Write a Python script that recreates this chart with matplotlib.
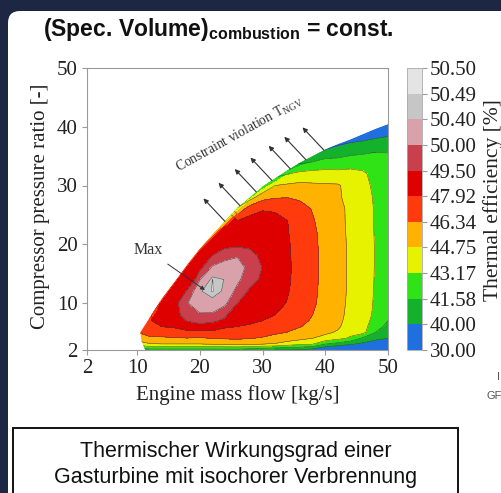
import numpy as np
import matplotlib
matplotlib.use("Agg")
import matplotlib.pyplot as plt
from matplotlib.patches import Polygon, Rectangle, FancyBboxPatch
from matplotlib.transforms import IdentityTransform

plt.rcParams['font.family'] = 'Liberation Serif'
plt.rcParams['mathtext.fontset'] = 'custom'
plt.rcParams['mathtext.rm'] = 'Liberation Serif'
plt.rcParams['mathtext.bf'] = 'Liberation Sans:bold'

nan = np.nan

# grid: engine mass flow [kg/s] x compressor pressure ratio [-]
mass_flow = [10, 12, 14, 16, 18, 20, 22, 24, 26, 28, 30, 32, 34, 36, 38, 40, 42, 44, 46, 48, 50]
pressure_ratio = [2, 3, 4, 5, 6, 7, 8, 10, 12, 14, 16, 18, 20, 22, 24, 26, 28, 30, 32, 34, 36, 38, 40, 42]

# thermal efficiency [%], one list per mass flow (bottom -> top), nan = far outside the map
efficiency = [
    [40.6, 43.8, 45.5, 46.3, 46.6, 46.5, 46.2] + [nan] * 17,
    [41.0, 44.6, 46.1, 46.9, 47.5, 47.8, 47.8, 47.5, 47.2] + [nan] * 15,
    [41.0, 44.7, 46.1, 47.1, 47.95, 48.5, 48.8, 48.05, 48.0, 47.9] + [nan] * 14,
    [41.0, 44.7, 46.2, 47.3, 48.1, 48.8, 49.3, 49.3, 48.6, 48.2, 48.0, 48.0] + [nan] * 12,
    [41.0, 44.7, 46.3, 47.4, 49.0, 49.55, 49.75, 49.98, 49.6, 48.7, 48.3, 48.2, 48.2] + [nan] * 11,
    [41.0, 44.7, 46.2, 47.3, 49.3, 49.7, 49.95, 50.27, 50.38, 49.98, 49.35, 48.3, 48.0, 48.0] + [nan] * 10,
    [41.0, 44.8, 46.4, 47.4, 49.1, 49.65, 49.93, 50.32, 50.5, 50.493, 50.08, 49.55, 48.3, 48.0, 48.0] + [nan] * 9,
    [41.0, 45.0, 46.5, 47.4, 48.1, 49.35, 49.65, 50.1, 50.36, 50.39, 50.22, 49.85, 49.3, 48.3, 48.0, 48.0, 48.0] + [nan] * 7,
    [41.0, 45.1, 46.6, 47.3, 47.92, 48.3, 48.7, 49.5, 49.85, 50.1, 50.2, 49.97, 49.35, 48.6, 47.95, 45.0, 43.0] + [nan] * 7,
    [40.7, 45.0, 46.4, 47.2, 47.8, 48.1, 48.4, 48.95, 49.4, 49.7, 49.85, 49.7, 49.35, 48.8, 48.4, 47.3, 44.0, 42.0] + [nan] * 6,
    [40.2, 44.75, 46.2, 46.9, 47.4, 47.92, 48.2, 48.7, 49.1, 49.4, 49.48, 49.35, 49.1, 48.7, 48.3, 47.85, 45.8, 43.0, 41.5] + [nan] * 5,
    [40.0, 44.6, 45.8, 46.6, 47.1, 47.5, 47.92, 48.35, 48.65, 48.85, 48.9, 48.85, 48.7, 48.45, 48.2, 47.8, 46.2, 44.75, 42.5, 41.0] + [nan] * 4,
    [39.95, 43.9, 45.7, 46.3, 46.8, 47.15, 47.45, 47.85, 48.0, 48.1, 48.12, 48.1, 48.05, 47.98, 47.92, 47.3, 46.3, 45.0, 43.1, 41.5] + [nan] * 4,
    [39.8, 43.5, 45.2, 45.9, 46.4, 46.75, 47.0, 47.25, 47.35, 47.4, 47.4, 47.4, 47.38, 47.3, 47.15, 46.85, 46.1, 45.15, 43.6, 41.2, 39.5] + [nan] * 3,
    [39.3, 43.2, 44.75, 45.4, 45.85, 46.15, 46.34, 46.55, 46.62, 46.65, 46.67, 46.67, 46.65, 46.6, 46.45, 46.25, 45.7, 45.0, 43.8, 41.6, 40.2, 39.0] + [nan] * 2,
    [38.0, 41.58, 44.3, 45.0, 45.35, 45.55, 45.7, 45.85, 45.9, 45.95, 45.95, 45.95, 45.9, 45.85, 45.75, 45.6, 45.3, 44.95, 43.7, 42.2, 40.1, 38.5] + [nan] * 2,
    [37.7, 40.9, 43.7, 44.6, 44.95, 45.05, 45.1, 45.18, 45.22, 45.25, 45.25, 45.25, 45.22, 45.18, 45.12, 45.1, 44.9, 44.9, 43.7, 42.1, 40.6, 39.2] + [nan] * 2,
    [37.2, 40.2, 42.9, 43.75, 44.1, 44.3, 44.4, 44.48, 44.52, 44.54, 44.54, 44.54, 44.52, 44.5, 44.48, 44.48, 44.4, 44.25, 43.7, 42.4, 40.9, 39.5, 38.5] + [nan],
    [36.8, 39.6, 41.3, 43.64, 43.7, 43.75, 43.78, 43.8, 43.82, 43.82, 43.82, 43.82, 43.82, 43.8, 43.8, 43.78, 43.7, 43.55, 43.4, 42.5, 41.1, 39.7, 38.6] + [nan],
    [36.3, 38.9, 40.5, 41.58, 42.3, 42.7, 42.9, 43.0, 43.05, 43.08, 43.1, 43.1, 43.1, 43.08, 43.05, 43.05, 43.0, 42.9, 42.7, 42.2, 41.45, 40.0, 38.8, 37.8],
    [35.8, 38.0, 40.0, 40.6, 41.1, 41.58, 41.85, 42.1, 42.25, 42.35, 42.4, 42.4, 42.4, 42.38, 42.36, 42.35, 42.3, 42.2, 42.05, 41.85, 41.5, 40.2, 39.0, 38.0],
]

# upper edge of the feasible map (T_NGV constraint) and its left foot
boundary_flow = [10.5, 12, 14, 16, 18, 20, 22, 24, 26, 28, 30, 32, 34, 36, 38, 40, 42, 44, 46, 48, 50]
boundary_ratio = [5.0, 7.5, 10.8, 13.6, 16.5, 19.2, 21.6, 23.9, 26.2, 28.0, 29.8, 31.2, 32.6, 33.9, 35.0, 36.1, 37.0, 37.8, 38.7, 39.6, 40.4]
foot_flow = [11.3, 10.7]
foot_ratio = [2.0, 3.5]

# thin band along the constraint edge (inner line -> edge)
strip_inner_ratio = [7.0, 10.3, 13.1, 16.0, 18.7, 20.9, 22.9, 25.2, 27.2, 28.8, 30.0, 31.9, 33.3, 34.0, 34.5, 34.9, 35.2, 35.5, 35.7, 35.8]
strip_inner_eff = [47.8, 48.0, 48.4, 48.3, 48.2, 48.2, 48.2, 46.2, 45.3, 44.7, 44.75, 43.2, 41.6, 41.6, 41.65, 41.45, 41.5, 41.45, 41.55, 41.55]
strip_edge_eff = [46.9, 46.8, 46.6, 46.4, 45.8, 44.5, 42.9, 42.6, 42.0, 41.8, 41.3, 40.9, 40.5, 40.1, 39.8, 39.6, 39.5, 39.2, 38.9, 38.7]

arrow_flow = [24.0, 26.4, 29.0, 31.5, 34.4, 36.9, 39.8]

levels = [30.0, 40.0, 41.58, 43.17, 44.75, 46.34, 47.92, 49.5, 50.0, 50.4, 50.49, 50.5]
band_colors = ['#1f6fe0', '#14b22c', '#30e316', '#e6f200', '#ffb300', '#ff3b0d',
               '#de0000', '#c9404c', '#d9a2aa', '#c6c6c6', '#e4e4e4']

fig = plt.figure(figsize=(5.02, 4.93), dpi=100)
fig.patch.set_facecolor('#1d2743')
panel = FancyBboxPatch((8, -40), 600, 493 - 11 + 40, boxstyle='round,pad=0,rounding_size=12',
                       transform=IdentityTransform(), fc='white', ec='none', zorder=-10)
fig.add_artist(panel)

ax = fig.add_axes([87 / 502, 143 / 493, 301 / 502, 282 / 493])
ax.set_facecolor('white')
X, Y = np.meshgrid(mass_flow, pressure_ratio)
Z = np.ma.masked_invalid(np.array(efficiency).T)

region = Polygon(np.column_stack([foot_flow + boundary_flow + [50],
                                  foot_ratio + boundary_ratio + [2.0]]),
                 closed=True, transform=ax.transData)

cs = ax.contourf(X, Y, Z, levels=levels, colors=band_colors)
cl = ax.contour(X, Y, Z, levels=levels[1:-1], colors='#3c3c3c', linewidths=0.35)
SX = np.array([boundary_flow[1:], boundary_flow[1:]])
SY = np.array([strip_inner_ratio, boundary_ratio[1:]])
SZ = np.array([strip_inner_eff, strip_edge_eff])
cs2 = ax.contourf(SX, SY, SZ, levels=levels, colors=band_colors)
for c in (cs, cl, cs2):
    c.set_clip_path(region)

ax.set_xlim(2, 50)
ax.set_ylim(2, 50)
ax.set_xticks([2, 10, 20, 30, 40, 50])
ax.set_yticks([2, 10, 20, 30, 40, 50])
for s in ax.spines.values():
    s.set_color('#9a9a9a')
    s.set_linewidth(0.8)
ax.tick_params(direction='out', length=3.5, width=0.8, color='#9a9a9a',
               labelsize=15, labelcolor='#222222', pad=3)

ax.set_xlabel('Engine mass flow [kg/s]', fontsize=15, color='#222222')
ax.xaxis.set_label_coords(0.5, -(395 - 350) / 282)
ax.xaxis.label.set_va('center')
ax.set_ylabel('Compressor pressure ratio [-]', fontsize=15, color='#222222')
ax.yaxis.set_label_coords((40 - 87) / 301, 0.51)
ax.yaxis.label.set_va('center')

ax.annotate('Max', xy=(20.8, 12.2), xytext=(11.7, 19.0), fontsize=11.5, color='#333333',
            ha='center', va='center',
            arrowprops=dict(arrowstyle='-|>', color='#333333', lw=0.7,
                            mutation_scale=6, shrinkA=4, shrinkB=0))
ax.text(26.3, 38.7, r'Constraint violation T$_{\mathrm{NGV}}$', rotation=29,
        rotation_mode='anchor', ha='center', va='center', fontsize=9.8, color='#333333')
for fx in arrow_flow:
    fy = np.interp(fx, boundary_flow, boundary_ratio)
    ax.annotate('', xy=(fx, fy), xytext=(-15.5, 16.5), textcoords='offset points',
                arrowprops=dict(arrowstyle='<|-', color='#333333', lw=0.8,
                                mutation_scale=7, shrinkA=0, shrinkB=0))

cax = fig.add_axes([407 / 502, 143 / 493, 15 / 502, 282 / 493])
cb = fig.colorbar(cs, cax=cax, ticks=levels)
cb.ax.set_yticklabels([f'{v:.2f}' for v in levels])
cb.outline.set_edgecolor('#aaaaaa')
cb.outline.set_linewidth(0.6)
cb.ax.tick_params(length=3.5, width=0.8, color='#9a9a9a', labelsize=15,
                  labelcolor='#222222', pad=2)
cb.set_label('Thermal efficiency [%]', fontsize=15.5, color='#222222')
cb.ax.yaxis.set_label_coords((493 - 407) / 15, 0.53)
cb.ax.yaxis.label.set_va('center')

fig.text(43 / 502, (493 - 36) / 493, r'(Spec. Volume)$_\mathbf{combustion}$ = const.',
         family='Liberation Sans', weight='bold', fontsize=16.5, va='baseline', color='#111111')

box = Rectangle((13, -10), 445, 493 - 428 + 10, transform=IdentityTransform(),
                fc='white', ec='#111111', lw=1.4, zorder=-5)
fig.add_artist(box)
fig.text(236 / 502, (493 - 452) / 493, 'Thermischer Wirkungsgrad einer',
         family='Liberation Sans', fontsize=15.5, ha='center', va='center', color='#111111')
fig.text(236 / 502, (493 - 477) / 493, 'Gasturbine mit isochorer Verbrennung',
         family='Liberation Sans', fontsize=15.5, ha='center', va='center', color='#111111')

fig.text(497 / 502, (493 - 377) / 493, 'I', family='Liberation Sans', fontsize=8,
         color='#555555', va='center')
fig.text(487 / 502, (493 - 396) / 493, 'GF', family='Liberation Sans', fontsize=8,
         color='#555555', va='center')

fig.savefig('out.png', dpi=100, facecolor=fig.get_facecolor())
